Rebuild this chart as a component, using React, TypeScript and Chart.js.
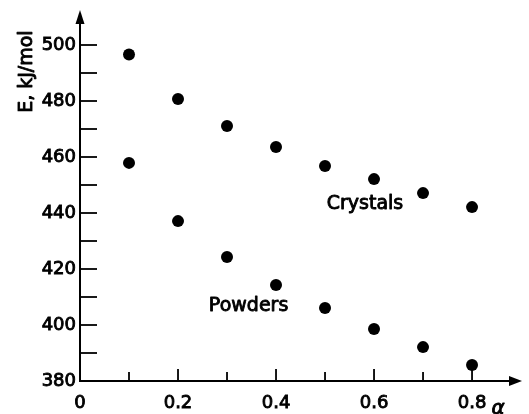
import React, { useEffect, useRef } from 'react';
import { Chart, registerables } from 'chart.js';

Chart.register(...registerables);

// ---- data ----
const alphaValues = [0.1, 0.2, 0.3, 0.4, 0.5, 0.6, 0.7, 0.8];
const crystalsE = [496.6, 480.7, 471.1, 463.6, 456.8, 452.1, 447.1, 442.1];
const powdersE = [457.9, 437.1, 424.3, 414.3, 406.1, 398.6, 392.1, 385.7];

const xMajorTicks = [0, 0.2, 0.4, 0.6, 0.8];
const xMinorTicks = [0.1, 0.3, 0.5, 0.7];
const yMajorTicks = [380, 400, 420, 440, 460, 480, 500];
const yMinorTicks = [390, 410, 430, 450, 470, 490];

const yTitle = 'E, kJ/mol';
const xTitle = 'α';
const crystalsLabel = 'Crystals';
const powdersLabel = 'Powders';

const FONT_FAMILY = '"DejaVu Sans", "Liberation Sans", sans-serif';

function strokeFill(ctx: CanvasRenderingContext2D, text: string, x: number, y: number, w: number) {
  ctx.lineWidth = w;
  ctx.lineJoin = 'round';
  ctx.strokeText(text, x, y);
  ctx.fillText(text, x, y);
}

const axesPlugin = {
  id: 'drawnAxes',
  beforeDatasetsDraw(chart: any) {
    const { ctx, chartArea, scales } = chart;
    const xs = scales.x;
    const ys = scales.y;
    const x0 = xs.getPixelForValue(0);
    const y0 = ys.getPixelForValue(380);
    ctx.save();
    ctx.strokeStyle = '#000';
    ctx.fillStyle = '#000';
    ctx.lineWidth = 2;
    ctx.lineCap = 'butt';

    // y axis line + arrow
    ctx.beginPath();
    ctx.moveTo(x0, y0 + 1);
    ctx.lineTo(x0, chartArea.top + 8);
    ctx.stroke();
    ctx.beginPath();
    ctx.moveTo(x0, chartArea.top);
    ctx.lineTo(x0 - 4.5, chartArea.top + 14);
    ctx.lineTo(x0 + 4.5, chartArea.top + 14);
    ctx.closePath();
    ctx.fill();

    // x axis line + arrow
    const xr = chartArea.right - 1;
    ctx.beginPath();
    ctx.moveTo(x0 - 1, y0);
    ctx.lineTo(xr - 8, y0);
    ctx.stroke();
    ctx.beginPath();
    ctx.moveTo(xr, y0);
    ctx.lineTo(xr - 13, y0 - 5);
    ctx.lineTo(xr - 13, y0 + 5);
    ctx.closePath();
    ctx.fill();

    // y ticks (inside, to the right)
    ctx.lineWidth = 1.8;
    [...yMajorTicks, ...yMinorTicks].forEach((v) => {
      if (v === 380) return;
      const py = ys.getPixelForValue(v);
      ctx.beginPath();
      ctx.moveTo(x0, py);
      ctx.lineTo(x0 + 17, py);
      ctx.stroke();
    });

    // x ticks (inside, upward)
    xMajorTicks.forEach((v) => {
      if (v === 0) return;
      const px = xs.getPixelForValue(v);
      ctx.beginPath();
      ctx.moveTo(px, y0);
      ctx.lineTo(px, y0 - 12);
      ctx.stroke();
    });
    xMinorTicks.forEach((v) => {
      const px = xs.getPixelForValue(v);
      ctx.beginPath();
      ctx.moveTo(px, y0);
      ctx.lineTo(px, y0 - 9);
      ctx.stroke();
    });
    ctx.restore();
  },
  afterDraw(chart: any) {
    const { ctx, scales } = chart;
    const xs = scales.x;
    const ys = scales.y;
    const y0 = ys.getPixelForValue(380);
    ctx.save();
    ctx.fillStyle = '#000';
    ctx.strokeStyle = '#000';
    ctx.font = `19px ${FONT_FAMILY}`;
    ctx.textAlign = 'center';
    ctx.textBaseline = 'alphabetic';

    // y axis title (rotated)
    ctx.save();
    ctx.translate(32, ys.getPixelForValue(490.5));
    ctx.rotate(-Math.PI / 2);
    strokeFill(ctx, yTitle, 0, 0, 0.9);
    ctx.restore();

    // series labels
    strokeFill(ctx, crystalsLabel, xs.getPixelForValue(0.5816), ys.getPixelForValue(441.4), 0.9);
    strokeFill(ctx, powdersLabel, xs.getPixelForValue(0.344), ys.getPixelForValue(405), 0.9);

    // x axis title
    ctx.font = `italic 20px ${FONT_FAMILY}`;
    strokeFill(ctx, xTitle, xs.getPixelForValue(0.853), y0 + 33, 0.9);
    ctx.restore();
  },
};

export default function App() {
  const canvasRef = useRef<HTMLCanvasElement | null>(null);

  useEffect(() => {
    const canvas = canvasRef.current;
    if (!canvas) return;
    const tickFont = { family: FONT_FAMILY, size: 18 };
    const chart = new Chart(canvas, {
      type: 'scatter',
      data: {
        datasets: [
          {
            label: crystalsLabel,
            data: alphaValues.map((a, i) => ({ x: a, y: crystalsE[i] })),
            backgroundColor: '#000',
            borderColor: '#000',
            pointRadius: 6,
            pointHoverRadius: 6,
            borderWidth: 0,
          },
          {
            label: powdersLabel,
            data: alphaValues.map((a, i) => ({ x: a, y: powdersE[i] })),
            backgroundColor: '#000',
            borderColor: '#000',
            pointRadius: 6,
            pointHoverRadius: 6,
            borderWidth: 0,
          },
        ],
      },
      options: {
        animation: false,
        responsive: false,
        maintainAspectRatio: false,
        events: [],
        layout: { padding: { top: 10, right: 0, left: 0, bottom: 0 } },
        plugins: {
          legend: { display: false },
          tooltip: { enabled: false },
          title: { display: false },
        },
        scales: {
          x: {
            type: 'linear',
            min: 0,
            max: 0.904,
            grid: { display: false, drawTicks: false },
            border: { display: false },
            afterBuildTicks: (scale: any) => {
              scale.ticks = xMajorTicks.map((v) => ({ value: v }));
            },
            afterFit: (scale: any) => {
              scale.height = 33;
              scale.paddingLeft = 0;
              scale.paddingRight = 0;
            },
            ticks: {
              autoSkip: false,
              maxRotation: 0,
              padding: 12,
              color: '#000',
              font: tickFont,
              textStrokeColor: '#000',
              textStrokeWidth: 0.9,
              callback: (value: any) => (Number(value) === 0 ? '0' : Number(value).toFixed(1)),
            },
          },
          y: {
            type: 'linear',
            min: 380,
            max: 512.5,
            grid: { display: false, drawTicks: false },
            border: { display: false },
            afterBuildTicks: (scale: any) => {
              scale.ticks = yMajorTicks.map((v) => ({ value: v }));
            },
            afterFit: (scale: any) => {
              scale.width = 80;
              scale.paddingTop = 0;
              scale.paddingBottom = 0;
            },
            ticks: {
              padding: 4,
              color: '#000',
              font: tickFont,
              textStrokeColor: '#000',
              textStrokeWidth: 0.9,
              callback: (value: any) => String(value),
            },
          },
        },
      },
      plugins: [axesPlugin],
    });
    return () => chart.destroy();
  }, []);

  return (
    <div style={{ position: 'absolute', left: 0, top: 0, width: 529, height: 414, background: '#fff' }}>
      <canvas ref={canvasRef} width={529} height={414} style={{ display: 'block' }} />
    </div>
  );
}
